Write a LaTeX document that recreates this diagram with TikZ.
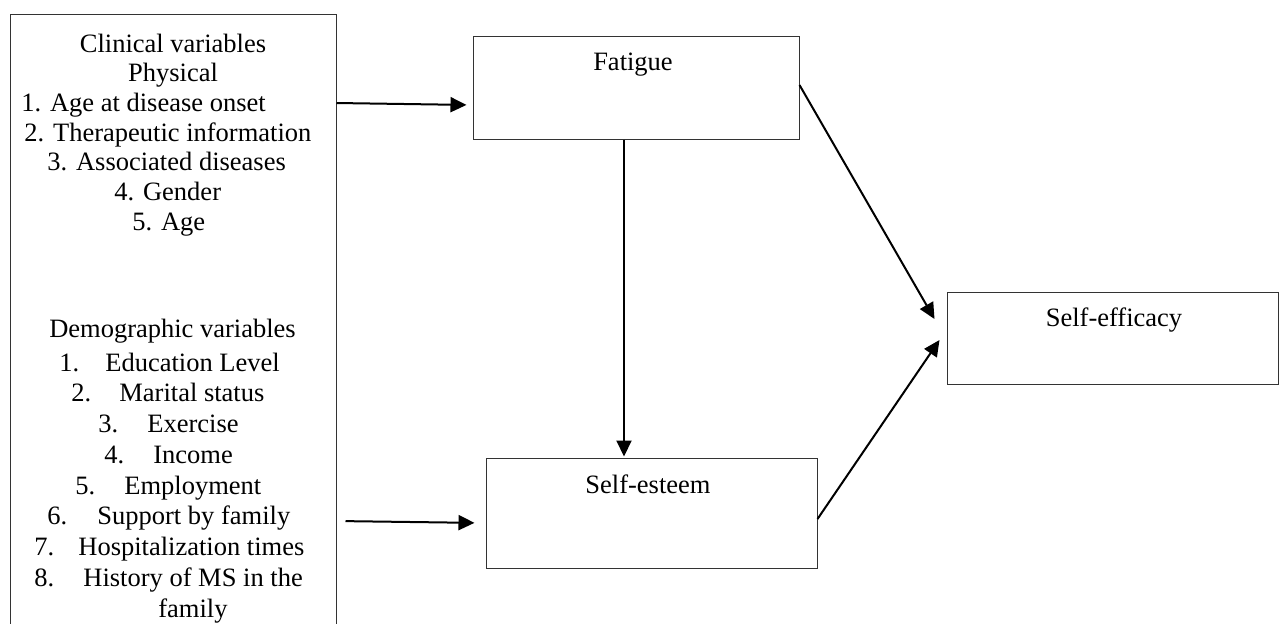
\documentclass[tikz,border=0pt]{standalone}
\usepackage{fontspec}
\setmainfont{Liberation Serif}
\usetikzlibrary{arrows.meta,calc}
\begin{document}
\begin{tikzpicture}[x=0.5pt,y=-0.5pt,
  box/.style={draw=black!80,line width=0.5pt,rectangle,inner sep=0pt},
  txt/.style={inner sep=0pt,font=\fontsize{13.25pt}{15pt}\selectfont},
  arr/.style={draw=black,line width=1pt,-{Triangle[length=8pt,width=7.5pt]}}]
\useasboundingbox (0,0) rectangle (1280,623);
\clip (0,0) rectangle (1280,623);
% left box
\node[box,minimum width=163pt,minimum height=323pt] (vars) at (173,337) {};
\node[txt,anchor=base] (h1) at (173,52) {Clinical variables};
\node[txt,anchor=base] (h2) at (173,81.7) {Physical};
\foreach \i/\x/\y/\t in {1/21/111.4/Age at disease onset, 2/24/141.1/Therapeutic information, 3/47/170.8/Associated diseases, 4/114/200.5/Gender, 5/132/230.2/Age}
  \node[txt,anchor=base west] (c\i) at (\x,\y) {\i. \t};
\node[txt,anchor=base] (h3) at (172.5,337) {Demographic variables};
\foreach \i/\nx/\wx/\y/\t in {1/59/105/371/Education Level, 2/71/119/401.75/Marital status, 3/98/147/432.5/Exercise, 4/104/153/463.25/Income, 5/75/124/494/Employment, 6/47/97/524.75/Support by family, 7/34/78/555.5/Hospitalization times, 8/34/83/586.25/History of MS in the}
{
  \node[txt,anchor=base west] (dn\i) at (\nx,\y) {\i.};
  \node[txt,anchor=base west] (dw\i) at (\wx,\y) {\t};
}
\node[txt,anchor=base west] (dw9) at (158,617) {family};
% boxes
\node[box,minimum width=163pt,minimum height=51.5pt] (fat) at (636,87.5) {};
\node[txt,anchor=base] (fatl) at (633,70) {Fatigue};
\node[box,minimum width=165.5pt,minimum height=55pt] (est) at (651.5,513) {};
\node[txt,anchor=base] (estl) at (648,493) {Self-esteem};
\node[box,minimum width=165.5pt,minimum height=46pt] (eff) at (1112.5,338) {};
\node[txt,anchor=base] (effl) at (1114,326) {Self-efficacy};
% helper coordinates
\coordinate (ya) at (0,103);
\coordinate (yb) at (0,105);
\coordinate (yc) at (0,521);
\coordinate (yd) at (0,523);
\coordinate (ye) at (0,85);
\coordinate (yf) at (0,319);
\coordinate (yg) at (0,519);
\coordinate (yh) at (0,340);
\coordinate (vx) at (624,0);
% arrows
\draw[arr,shorten >=3pt] (vars.east |- ya) -- (fat.west |- yb);
\draw[arr,shorten <=4.5pt,shorten >=5.5pt] (vars.east |- yc) -- (est.west |- yd);
\draw[arr,shorten >=0.5pt] (fat.south -| vx) -- (est.north -| vx);
\draw[arr] (fat.east |- ye) -- ($(eff.west |- yf)+(-12,0)$);
\draw[arr] (est.east |- yg) -- ($(eff.west |- yh)+(-7,0)$);
\end{tikzpicture}
\end{document}
